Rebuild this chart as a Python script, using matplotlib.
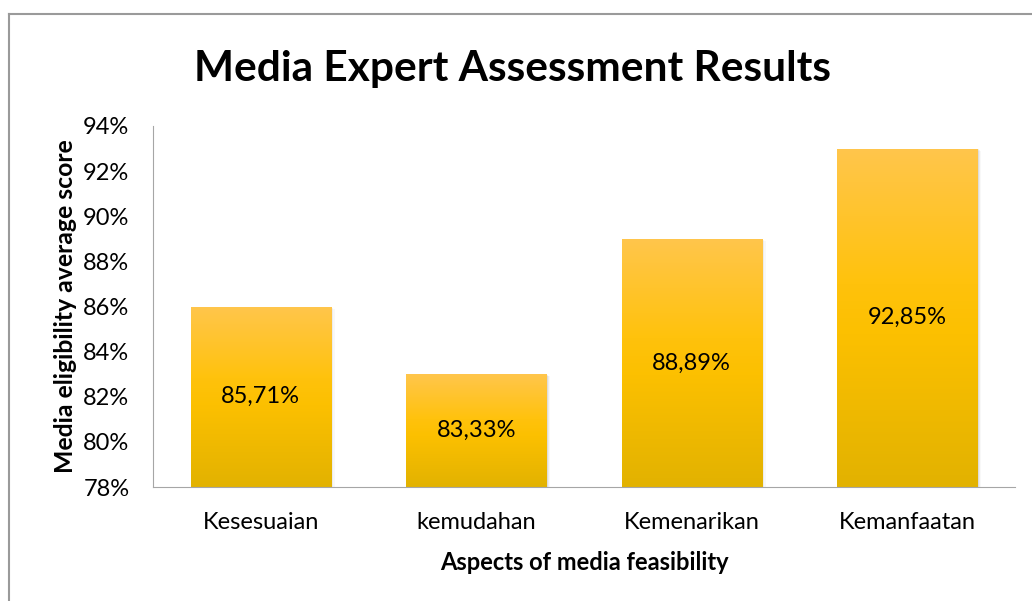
import numpy as np
import matplotlib.pyplot as plt
from matplotlib.colors import LinearSegmentedColormap
from matplotlib.patches import Rectangle
from matplotlib.lines import Line2D

# data
categories = ["Kesesuaian", "kemudahan", "Kemenarikan", "Kemanfaatan"]
bar_values = [86, 83, 89, 93]          # bar heights as drawn (%)
bar_labels = ["85,71%", "83,33%", "88,89%", "92,85%"]
y_ticks = [78, 80, 82, 84, 86, 88, 90, 92, 94]

FONT = "Lato"
plt.rcParams["font.family"] = [FONT, "DejaVu Sans"]

fig = plt.figure(figsize=(10.32, 6.01), dpi=100)
ax = fig.add_axes([153/1032, 1 - 487/601, (1015-153)/1032, (487-126)/601])

grad = LinearSegmentedColormap.from_list(
    "bar", [(0.0, "#E2B200"), (0.45, "#FCC000"), (0.6, "#FFC20C"), (1.0, "#FFC64C")])
img = np.linspace(0, 1, 256).reshape(-1, 1)

width = 0.65
ymin, ymax = 78, 94
for i, v in enumerate(bar_values):
    x0 = i - width / 2
    # soft shadow
    for k, a in enumerate([0.10, 0.07, 0.04]):
        off = 0.006 * (k + 1)
        ax.add_patch(Rectangle((x0 + off, ymin), width, v - ymin - 0.03 * (k + 1),
                               facecolor="#555555", alpha=a, edgecolor="none", zorder=1))
    rect = Rectangle((x0, ymin), width, v - ymin, facecolor="none", edgecolor="none", zorder=2)
    ax.add_patch(rect)
    im = ax.imshow(img, cmap=grad, extent=(x0, x0 + width, ymin, v),
                   origin="lower", aspect="auto", zorder=2)
    im.set_clip_path(rect)
    ax.text(i, (ymin + v) / 2, bar_labels[i], ha="center", va="center",
            fontsize=17, color="black", zorder=3)

ax.set_xlim(-0.5, 3.5)
ax.set_ylim(ymin, ymax)
ax.set_yticks(y_ticks)
ax.set_yticklabels([f"{t}%" for t in y_ticks], fontsize=17)
ax.set_xticks(range(len(categories)))
ax.set_xticklabels(categories, fontsize=17)
ax.tick_params(axis="y", length=0, pad=17)
ax.tick_params(axis="x", length=0, pad=18)
for s in ["top", "right"]:
    ax.spines[s].set_visible(False)
ax.spines["left"].set_color("#A6A6A6")
ax.spines["bottom"].set_color("#A6A6A6")

ax.set_xlabel("Aspects of media feasibility", fontsize=17, fontweight="bold", labelpad=13)
ax.set_ylabel("Media eligibility average score", fontsize=17.8, fontweight="bold", labelpad=4)

fig.text(0.497, 1 - 69/601, "Media Expert Assessment Results", ha="center", va="center",
         fontsize=30.5, fontweight="bold")

# outer chart border (left and top edges)
fig.add_artist(Line2D([8.5/1032, 8.5/1032], [0, 1 - 13.5/601], transform=fig.transFigure,
                      color="#9A9A9A", lw=1.5))
fig.add_artist(Line2D([8.5/1032, 1], [1 - 13.5/601, 1 - 13.5/601], transform=fig.transFigure,
                      color="#9A9A9A", lw=1.5))

fig.savefig("out.png", dpi=100, facecolor="white")
